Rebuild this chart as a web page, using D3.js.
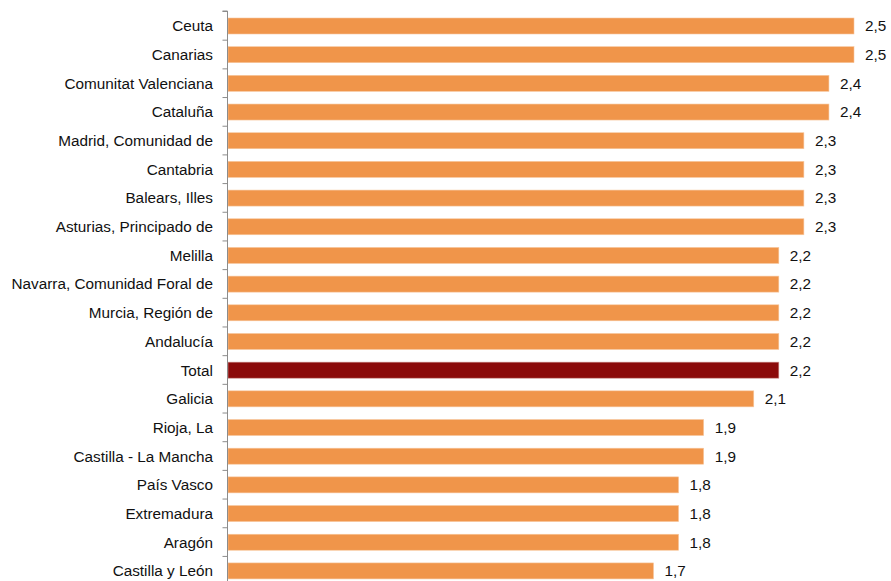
<!DOCTYPE html>
<html><head><meta charset="utf-8">
<script src="https://cdn.jsdelivr.net/npm/d3@7"></script>
<style>body{margin:0;background:#fff}svg{display:block}text{font-family:"Liberation Sans",Arial,sans-serif}</style>
</head><body><svg id="c" width="891" height="581"></svg>
<script>
const categories = ["Ceuta","Canarias","Comunitat Valenciana","Cataluña","Madrid, Comunidad de","Cantabria","Balears, Illes","Asturias, Principado de","Melilla","Navarra, Comunidad Foral de","Murcia, Región de","Andalucía","Total","Galicia","Rioja, La","Castilla - La Mancha","País Vasco","Extremadura","Aragón","Castilla y León"];
const values = [2.5,2.5,2.4,2.4,2.3,2.3,2.3,2.3,2.2,2.2,2.2,2.2,2.2,2.1,1.9,1.9,1.8,1.8,1.8,1.7];
const highlight = ["Total"];

const svg = d3.select("#c");
const x0 = 227.5, yTop = 11, step = 28.68, barH = 16, barOff = 7;
const yBot = yTop + step*categories.length;
const x = d3.scaleLinear().domain([0,2.5]).range([x0, 854]);
const y = d3.scaleBand().domain(categories).range([yTop, yBot]).padding(0);

svg.selectAll("rect.bar").data(categories).join("rect")
  .attr("class","bar")
  .attr("x", x(0)+0.5)
  .attr("y", d => y(d) + barOff)
  .attr("width", (d,i) => x(values[i]) - x(0) - 0.5)
  .attr("height", barH)
  .attr("fill", d => highlight.includes(d) ? "#8b0a0a" : "#f0954a")
  .attr("stroke", d => highlight.includes(d) ? "#c98a86" : "#f7c79e")
  .attr("stroke-width", 0.6);

const yAxis = d3.axisLeft(d3.scaleLinear().domain([0,categories.length]).range([yTop, yBot]))
  .ticks(categories.length).tickSize(5).tickFormat("");
const ga = svg.append("g").attr("transform", `translate(${x0},0)`).call(yAxis);
ga.selectAll("path,line").attr("stroke","#8c8c8c");
ga.select("path").attr("d", `M-5,${yTop}H0V${yBot}`);

svg.selectAll("text.lab").data(categories).join("text")
  .attr("class","lab")
  .attr("x", x0 - 14.5)
  .attr("y", d => y(d) + barOff + barH/2)
  .attr("dy","0.35em")
  .attr("text-anchor","end")
  .attr("font-size", 15.3)
  .attr("fill","#111")
  .text(d => d);

svg.selectAll("text.val").data(categories).join("text")
  .attr("class","val")
  .attr("x", (d,i) => x(values[i]) + 11)
  .attr("y", d => y(d) + barOff + barH/2)
  .attr("dy","0.35em")
  .attr("font-size", 15.3)
  .attr("fill","#111")
  .text((d,i) => values[i].toFixed(1).replace(".",","));
</script></body></html>
